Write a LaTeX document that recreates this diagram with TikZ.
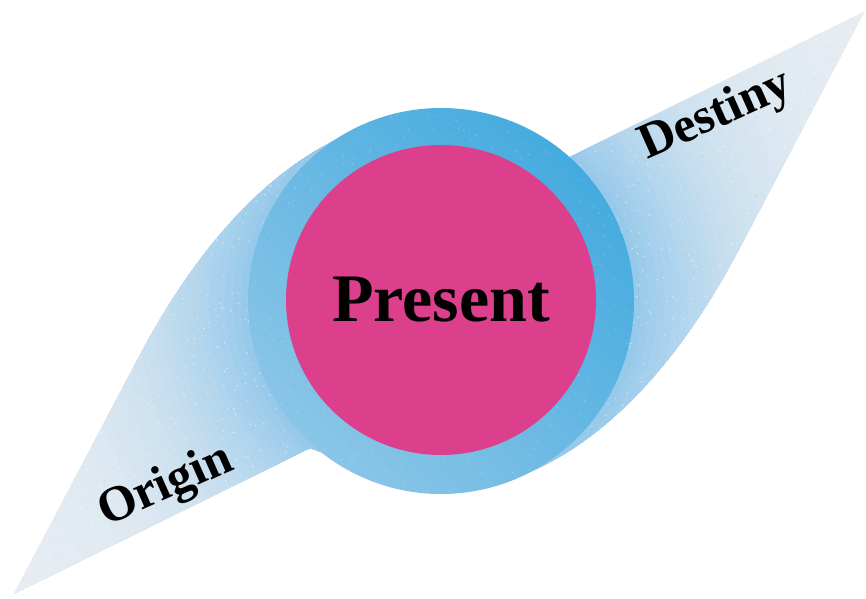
\documentclass[tikz,border=0pt]{standalone}
\usepackage{fontspec}
\setmainfont{Liberation Serif}
\definecolor{pinkc}{HTML}{DC408C}
\definecolor{ringdark}{HTML}{45ABDF}
\definecolor{ringlight}{HTML}{8AC5E7}
\definecolor{swlight}{HTML}{94C8EA}
\definecolor{swpale}{HTML}{E6ECF2}
\definecolor{grain}{HTML}{9AA6B2}
\begin{document}
\begin{tikzpicture}[x=1pt,y=-1pt,
  lbl/.style={font=\bfseries\fontsize{50}{52}\selectfont, text=black, inner sep=0pt},
  lightdot/.style={fill=white, opacity=0.55},
  darkdot/.style={fill=grain, opacity=0.25}]
\useasboundingbox (0,0) rectangle (866,598);
\coordinate (tipL) at (14,594);
\coordinate (A) at (140,355);
\coordinate (B) at (445,113);
\coordinate (C) at (568,158);
\coordinate (tipR) at (864,12);
\coordinate (A2) at (738,251);
\coordinate (B2) at (433,493);
\coordinate (D) at (310,448);
\coordinate (ctr) at (441,301);
\pgfmathsetseed{7}
\begin{scope}
  \clip (tipL) -- (A) .. controls (185,270) and (285,115) .. (B) -- (C) -- (tipR)
        -- (A2) .. controls (693,336) and (593,491) .. (B2) -- (D) -- cycle;
  \foreach \i in {0,...,45} {
    \pgfmathsetmacro\r{560-\i*8}
    \pgfmathsetmacro\s{max(0,min(1,(\r-195)/360))}
    \pgfmathsetmacro\p{100*(1-\s)^3}
    \fill[swlight!\p!swpale] (ctr) circle (\r);
  }
  \foreach \k in {1,...,2200} {
    \pgfmathsetmacro\xx{10+rnd*856}
    \pgfmathsetmacro\yy{8+rnd*590}
    \fill[lightdot] (\xx,\yy) circle (0.8);
  }
  \foreach \k in {1,...,1400} {
    \pgfmathsetmacro\xx{10+rnd*856}
    \pgfmathsetmacro\yy{8+rnd*590}
    \fill[darkdot] (\xx,\yy) circle (0.6);
  }
\end{scope}
\node (ring) [circle, inner sep=0pt, minimum size=386pt,
  top color=ringdark, bottom color=ringlight, shading angle=-45] at (ctr) {};
\begin{scope}
  \clip (ctr) circle (193);
  \foreach \k in {1,...,500} {
    \pgfmathsetmacro\xx{248+rnd*386}
    \pgfmathsetmacro\yy{108+rnd*386}
    \fill[white, opacity=0.3] (\xx,\yy) circle (0.7);
  }
\end{scope}
\node (present) [circle, inner sep=0pt, minimum size=310pt, fill=pinkc,
  font=\bfseries\fontsize{68}{70}\selectfont, text=black] at (441,300) {Present};
\node (origin) [lbl, rotate=24] at (166,487) {Origin};
\node (destiny) [lbl, rotate=24] at (716,116) {Destiny};
\end{tikzpicture}
\end{document}
